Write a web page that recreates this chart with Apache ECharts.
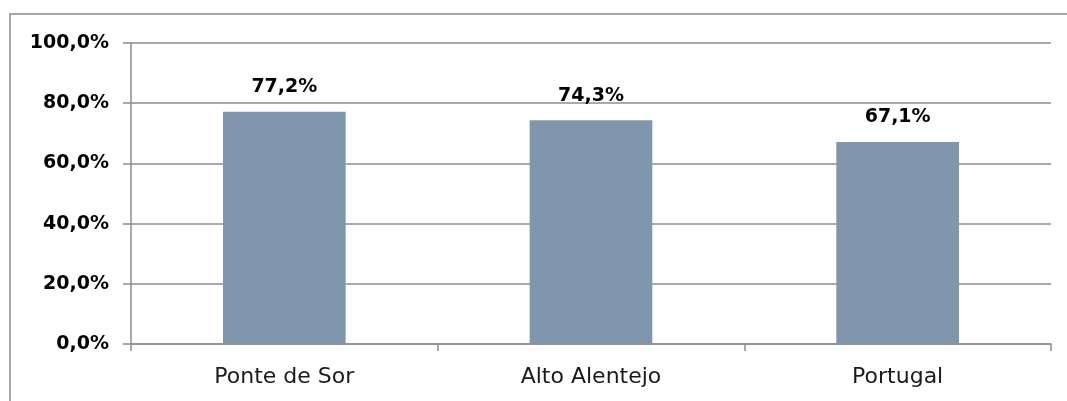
<!DOCTYPE html>
<html>
<head>
<meta charset="utf-8">
<style>
html,body{margin:0;padding:0;background:#fff;}
#chart{width:1067px;height:401px;}
</style>
<script src="https://cdn.jsdelivr.net/npm/echarts@6/dist/echarts.min.js"></script>
</head>
<body>
<div id="chart"></div>
<script>
const categories = ["Ponte de Sor", "Alto Alentejo", "Portugal"];
const values = [77.2, 74.3, 67.1];
const yTicks = [0, 20, 40, 60, 80, 100];

const fmt = v => v.toFixed(1).replace('.', ',') + '%';
const FONT = '"DejaVu Sans", sans-serif';

const chart = echarts.init(document.getElementById('chart'));
chart.setOption({
  animation: false,
  backgroundColor: '#fff',
  graphic: [{
    type: 'rect',
    shape: {x: 10, y: 14, width: 1080, height: 420},
    style: {fill: 'none', stroke: '#8c8c8c', lineWidth: 1.5},
    silent: true
  }],
  grid: {left: 131, right: 16, top: 43, bottom: 57, containLabel: false},
  xAxis: {
    type: 'category',
    data: categories,
    axisLine: {show: true, lineStyle: {color: '#8c8c8c', width: 1.5}},
    axisTick: {show: true, alignWithLabel: false, length: 7, lineStyle: {color: '#8c8c8c', width: 1.5}},
    axisLabel: {color: '#1a1a1a', fontSize: 22, fontFamily: FONT, margin: 22}
  },
  yAxis: {
    type: 'value',
    min: yTicks[0],
    max: yTicks[yTicks.length - 1],
    interval: 20,
    axisLine: {show: true, lineStyle: {color: '#8c8c8c', width: 1.5}},
    axisTick: {show: true, length: 8, lineStyle: {color: '#8c8c8c', width: 1.5}},
    splitLine: {show: true, lineStyle: {color: '#8c8c8c', width: 1.5}},
    axisLabel: {
      color: '#000', fontSize: 19, fontWeight: 'bold',
      fontFamily: FONT, margin: 22,
      formatter: v => fmt(v)
    }
  },
  series: [{
    type: 'bar',
    data: values,
    barWidth: '40%',
    itemStyle: {color: '#7f96ad'},
    label: {
      show: true, position: 'top', distance: 15,
      color: '#000', fontSize: 19, fontWeight: 'bold',
      fontFamily: FONT,
      formatter: p => fmt(p.value)
    }
  }]
});
</script>
</body>
</html>
